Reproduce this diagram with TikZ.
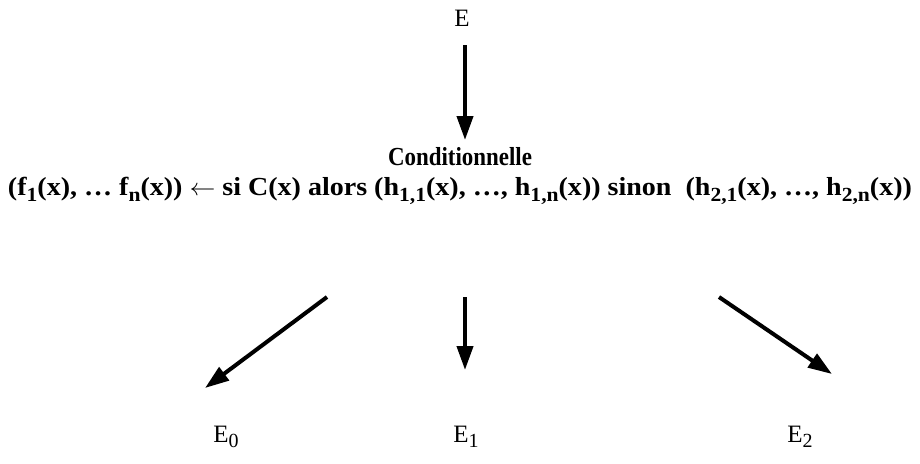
\documentclass[tikz,border=0pt]{standalone}
\usepackage{fontspec}
\setmainfont{Liberation Serif}
\usetikzlibrary{arrows.meta}

\newcommand{\ix}[1]{\raisebox{-0.45ex}{\fontsize{10}{10}\selectfont #1}}

\begin{document}
\begin{tikzpicture}[x=0.5pt,y=-0.5pt]
\useasboundingbox (0,0) rectangle (920,463);
\tikzset{
  lbl/.style={font=\fontsize{13}{15}\selectfont\bfseries, inner sep=0pt},
  set/.style={font=\fontsize{12.5}{14}\selectfont, inner sep=0pt},
  arr/.style={line width=2pt, -{Triangle[length=12pt, width=8pt]}}
}
\node[set] (E) at (462,18) {E};
\node[lbl] (cond) at (460,157) {\resizebox{72pt}{\height}{Conditionnelle}};
\node[lbl] (formula) at (460,191) {\resizebox{452pt}{\height}{(f\ix{1}(x), \dots\ f\ix{n}(x)) $\leftarrow$ si C(x) alors (h\ix{1,1}(x), \dots, h\ix{1,n}(x)) sinon\ \ (h\ix{2,1}(x), \dots, h\ix{2,n}(x))}};
\node[set] (E0) at (226,437) {E\ix{0}};
\node[set] (E1) at (466,437) {E\ix{1}};
\node[set] (E2) at (800,437) {E\ix{2}};
% free ends of the arrows
\coordinate (top0) at (465,45);
\coordinate (top1) at (465,140);
\coordinate (a0) at (327,297);
\coordinate (b0) at (205,388);
\coordinate (a1) at (465,297);
\coordinate (b1) at (465,370);
\coordinate (a2) at (719,297);
\coordinate (b2) at (832,374);
\draw[arr] (top0) -- (top1);
\draw[arr] (a0) -- (b0);
\draw[arr] (a1) -- (b1);
\draw[arr] (a2) -- (b2);
\end{tikzpicture}
\end{document}
